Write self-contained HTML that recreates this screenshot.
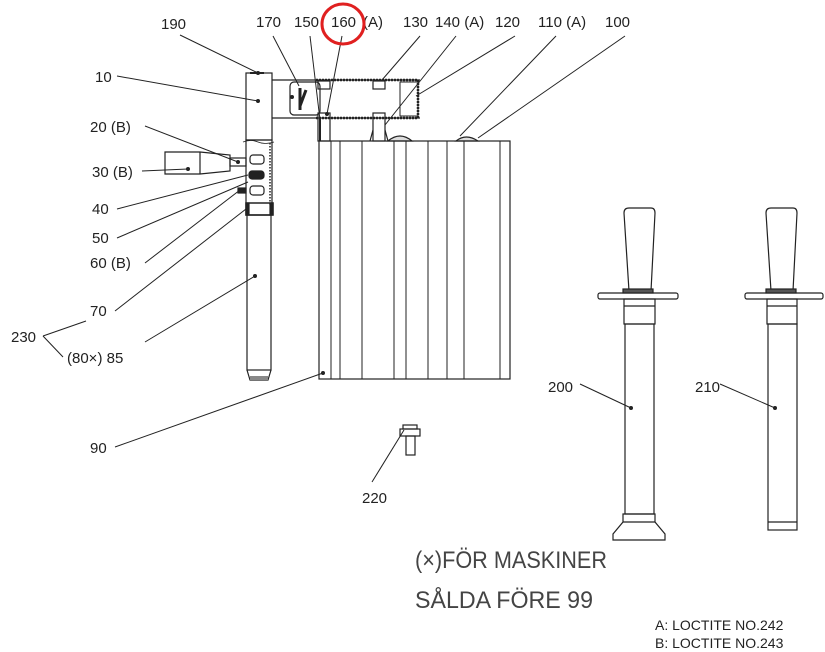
<!DOCTYPE html>
<html><head><meta charset="utf-8"><style>
html,body{margin:0;padding:0;background:#fff;}
svg{display:block;}
text{font-family:"Liberation Sans",sans-serif;font-size:15px;fill:#222;}
</style></head><body>
<svg width="825" height="652" viewBox="0 0 825 652" xmlns="http://www.w3.org/2000/svg">
<g stroke="#222" fill="none" stroke-width="1.2">
<rect x="246" y="73" width="26" height="67" fill="#fff"/>
<rect x="246" y="140" width="26" height="75"/>
<path d="M243 142 q8 -3 15 0 t16 0" stroke-width="0.8"/>
<line x1="270" y1="143" x2="270" y2="205" stroke-dasharray="1.5 1.5" stroke-width="1.5"/>
<rect x="246" y="203" width="27" height="12" stroke-width="1.5"/>
<rect x="246" y="203" width="3" height="12" fill="#222"/>
<rect x="270" y="203" width="3" height="12" fill="#222"/>
<rect x="247" y="215" width="24" height="155"/>
<path d="M247 370 L250 380 L268 380 L271 370"/>
<rect x="250" y="376" width="18" height="4" fill="#888" stroke="none"/>
<rect x="250" y="72" width="14" height="2" fill="#222" stroke="none"/>
<rect x="250" y="155" width="14" height="9" rx="3"/>
<rect x="249" y="171" width="15" height="8" rx="3" fill="#222"/>
<rect x="250" y="186" width="14" height="9" rx="3"/>
<rect x="238" y="188" width="8" height="5" fill="#222"/>
<path d="M165 152 L200 152 L230 155 L230 171 L200 174 L165 174 Z"/>
<line x1="200" y1="152" x2="200" y2="174"/>
<rect x="230" y="158" width="16" height="8"/>
<line x1="272" y1="80" x2="420" y2="80"/>
<line x1="272" y1="118" x2="420" y2="118"/>
<path d="M316 80 L418 80 L418 118 L316 118" stroke-width="2.5" stroke-dasharray="2 1"/>
<rect x="400" y="82" width="18" height="34" stroke-width="1"/>
<rect x="290" y="82" width="30" height="33" rx="4"/>
<path d="M300 88 L300 110" stroke-width="3"/>
<path d="M306 90 L300 106" stroke-width="3"/>
<rect x="318" y="81" width="12" height="8"/>
<rect x="373" y="81" width="12" height="8"/>
<rect x="318" y="113" width="12" height="28"/>
<rect x="373" y="113" width="12" height="28"/>
<line x1="320" y1="118" x2="320" y2="141" stroke-width="2"/>
<path d="M370 141 L373 130 M385 130 L388 141"/>
<path d="M388 141 q12 -10 24 0 Z" fill="#ddd"/>
<path d="M456 141 q10 -8 22 0 Z" fill="#ddd"/>
<rect x="319" y="141" width="191" height="238"/>
<g stroke-width="1">
<line x1="331" y1="141" x2="331" y2="379"/><line x1="340" y1="141" x2="340" y2="379"/>
<line x1="362" y1="141" x2="362" y2="379"/><line x1="394" y1="141" x2="394" y2="379"/>
<line x1="406" y1="141" x2="406" y2="379"/><line x1="428" y1="141" x2="428" y2="379"/>
<line x1="447" y1="141" x2="447" y2="379"/><line x1="464" y1="141" x2="464" y2="379"/>
<line x1="500" y1="141" x2="500" y2="379"/>
</g>
<rect x="400" y="429" width="20" height="7"/><rect x="403" y="425" width="14" height="4"/>
<rect x="406" y="436" width="9" height="19"/>
<path d="M624 213 q0 -5 5 -5 h22 q4 0 4 5 l-4 78 h-22 Z"/>
<rect x="598" y="293" width="80" height="6" rx="2"/>
<rect x="623" y="289" width="30" height="4" fill="#555"/>
<rect x="624" y="299" width="31" height="25"/>
<line x1="624" y1="306" x2="655" y2="306"/>
<rect x="625" y="324" width="29" height="190"/>
<path d="M623 514 h32 v8 l10 12 v6 h-52 v-6 l10 -12 Z"/>
<line x1="623" y1="522" x2="655" y2="522"/>
<path d="M766 213 q0 -5 5 -5 h22 q4 0 4 5 l-4 78 h-22 Z"/>
<rect x="745" y="293" width="78" height="6" rx="2"/>
<rect x="766" y="289" width="30" height="4" fill="#555"/>
<rect x="767" y="299" width="30" height="25"/>
<line x1="767" y1="306" x2="797" y2="306"/>
<rect x="768" y="324" width="29" height="206"/>
<line x1="768" y1="522" x2="797" y2="522"/>
</g>
<g stroke="#222" stroke-width="1">
<line x1="180" y1="35" x2="258" y2="73"/>
<line x1="117" y1="76" x2="258" y2="101"/>
<line x1="145" y1="126" x2="238" y2="162"/>
<line x1="142" y1="171" x2="188" y2="169"/>
<line x1="117" y1="209" x2="248" y2="175"/>
<line x1="117" y1="238" x2="248" y2="182"/>
<line x1="145" y1="263" x2="240" y2="190"/>
<line x1="115" y1="311" x2="246" y2="209"/>
<line x1="145" y1="342" x2="255" y2="276"/>
<line x1="43" y1="336" x2="86" y2="321"/>
<line x1="43" y1="336" x2="63" y2="357"/>
<line x1="115" y1="447" x2="323" y2="373"/>
<line x1="273" y1="36" x2="299" y2="86"/>
<line x1="310" y1="36" x2="320" y2="120"/>
<line x1="342" y1="36" x2="327" y2="114"/>
<line x1="420" y1="36" x2="382" y2="80"/>
<line x1="456" y1="36" x2="385" y2="125"/>
<line x1="515" y1="36" x2="416" y2="96"/>
<line x1="556" y1="36" x2="460" y2="136"/>
<line x1="625" y1="36" x2="478" y2="138"/>
<line x1="580" y1="384" x2="631" y2="408"/>
<line x1="720" y1="384" x2="775" y2="408"/>
<line x1="372" y1="482" x2="404" y2="430"/>
</g>
<g fill="#222">
<circle cx="258" cy="101" r="2"/><circle cx="238" cy="162" r="2"/><circle cx="188" cy="169" r="2"/>
<circle cx="255" cy="276" r="2"/><circle cx="323" cy="373" r="2"/><circle cx="631" cy="408" r="2"/>
<circle cx="775" cy="408" r="2"/><circle cx="327" cy="114" r="2"/><circle cx="292" cy="97" r="2"/>
<circle cx="258" cy="73" r="2"/>
</g>
<g>
<text x="161" y="29">190</text>
<text x="95" y="82">10</text>
<text x="90" y="132">20 (B)</text>
<text x="92" y="177">30 (B)</text>
<text x="92" y="214">40</text>
<text x="92" y="243">50</text>
<text x="90" y="268">60 (B)</text>
<text x="90" y="316">70</text>
<text x="11" y="342">230</text>
<text x="67" y="363">(80×)  85</text>
<text x="90" y="453">90</text>
<text x="256" y="27">170</text>
<text x="294" y="27">150</text>
<text x="331" y="27">160</text>
<text x="363" y="27">(A)</text>
<text x="403" y="27">130</text>
<text x="435" y="27">140 (A)</text>
<text x="495" y="27">120</text>
<text x="538" y="27">110 (A)</text>
<text x="605" y="27">100</text>
<text x="548" y="392">200</text>
<text x="695" y="392">210</text>
<text x="362" y="503">220</text>
<text x="415" y="568" textLength="192" lengthAdjust="spacingAndGlyphs" style="font-size:24px;fill:#444">(×)FÖR MASKINER</text>
<text x="415" y="608" textLength="178" lengthAdjust="spacingAndGlyphs" style="font-size:24px;fill:#444">SÅLDA FÖRE 99</text>
<text x="655" y="630" style="font-size:14px">A: LOCTITE NO.242</text>
<text x="655" y="648" style="font-size:14px">B: LOCTITE NO.243</text>
</g>
<ellipse cx="343" cy="24" rx="21" ry="20" fill="none" stroke="#e02020" stroke-width="3"/>
</svg>
</body></html>
